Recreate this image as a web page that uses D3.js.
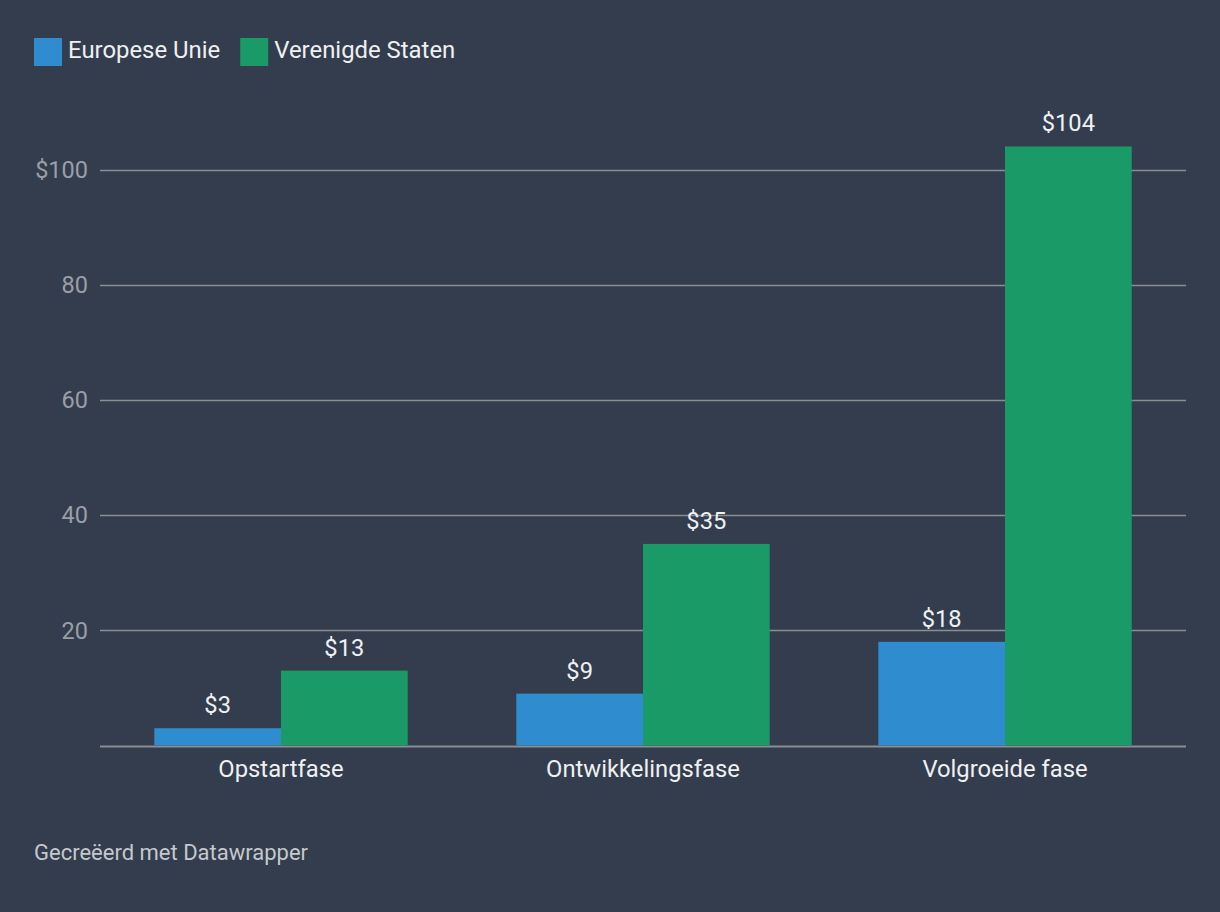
<!DOCTYPE html>
<html><head><meta charset="utf-8">
<script src="https://cdn.jsdelivr.net/npm/d3@7"></script>
<style>
html,body{margin:0;padding:0;background:#333d4e;}
svg{display:block;font-family:Roboto,"Noto Sans",sans-serif;}
</style></head>
<body>
<svg id="chart" width="1220" height="912"></svg>
<script>
const categories = ["Opstartfase", "Ontwikkelingsfase", "Volgroeide fase"];
const seriesNames = ["Europese Unie", "Verenigde Staten"];
const euValues = [3, 9, 18];
const usValues = [13, 35, 104];
const yTicks = [20, 40, 60, 80, 100];
const colors = ["#2f8dcf", "#1a9a66"];
const footer = "Gecreëerd met Datawrapper";

const svg = d3.select("#chart");
svg.append("rect").attr("width",1220).attr("height",912).attr("fill","#333d4e");

const x0 = d3.scaleBand().domain(categories).range([100,1186]).paddingInner(0.3).paddingOuter(0.15);
const x1 = d3.scaleBand().domain(seriesNames).range([0,x0.bandwidth()]);
const y = d3.scaleLinear().domain([0,100]).range([745.5,169.5]);

// gridlines
const grid = svg.append("g");
grid.selectAll("line").data([0].concat(yTicks)).join("line")
  .attr("x1",100).attr("x2",1186)
  .attr("y1",d=>Math.round(y(d))+0.5).attr("y2",d=>Math.round(y(d))+0.5)
  .attr("stroke","#8a8d91").attr("stroke-width",d=>d===0?2:1.5);

// y tick labels
svg.append("g").selectAll("text").data(yTicks).join("text")
  .attr("x",88).attr("y",d=>y(d)).attr("dy","0.35em")
  .attr("text-anchor","end").attr("fill","#9a9fa7").attr("font-size",23.5)
  .text(d=>d===100?"$"+d:d);

const data = categories.map((c,i)=>({cat:c, vals:[
  {s:seriesNames[0], v:euValues[i], c:colors[0]},
  {s:seriesNames[1], v:usValues[i], c:colors[1]}]}));

const groups = svg.append("g").selectAll("g").data(data).join("g")
  .attr("transform",d=>`translate(${x0(d.cat)},0)`);
groups.selectAll("rect").data(d=>d.vals).join("rect")
  .attr("x",d=>x1(d.s)).attr("width",x1.bandwidth())
  .attr("y",d=>y(d.v)).attr("height",d=>y(0)-y(d.v)).attr("fill",d=>d.c);
groups.selectAll("text").data(d=>d.vals).join("text")
  .attr("x",d=>x1(d.s)+x1.bandwidth()/2).attr("y",d=>y(d.v)-15)
  .attr("text-anchor","middle").attr("fill","#eef0f2").attr("font-size",23.7)
  .text(d=>"$"+d.v);

// category labels
svg.append("g").selectAll("text").data(categories).join("text")
  .attr("x",d=>x0(d)+x0.bandwidth()/2).attr("y",777)
  .attr("text-anchor","middle").attr("fill","#eef0f2").attr("font-size",23.8)
  .text(d=>d);

// legend
const leg = svg.append("g");
let lx = 34;
seriesNames.forEach((s,i)=>{
  leg.append("rect").attr("x",lx).attr("y",38).attr("width",28).attr("height",28).attr("fill",colors[i]);
  const t = leg.append("text").attr("x",lx+34).attr("y",58).attr("fill","#eef0f2").attr("font-size",23.9).text(s);
  lx += 34 + t.node().getComputedTextLength() + 20;
});

svg.append("text").attr("x",34).attr("y",860).attr("fill","#c5c8cc").attr("font-size",22).text(footer);
</script>
</body></html>
